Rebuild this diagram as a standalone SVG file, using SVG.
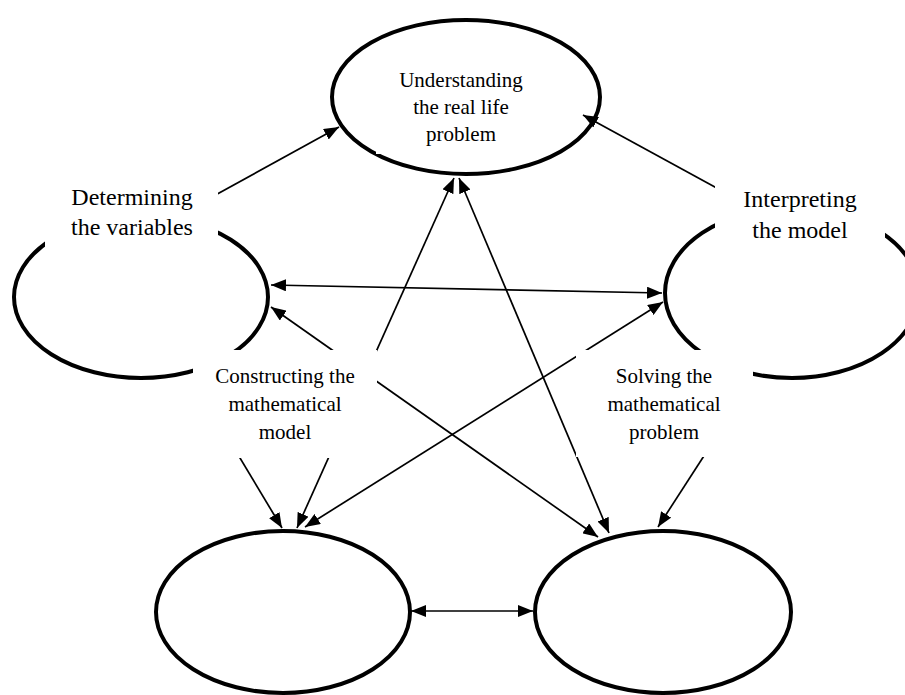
<svg xmlns="http://www.w3.org/2000/svg" width="905" height="695" viewBox="0 0 905 695">
<style>
.node{fill:#fff;stroke:#000;stroke-width:4}
.conn{fill:none;stroke:#000;stroke-width:1.7}
.dbl{marker-start:url(#arr);marker-end:url(#arr)}
.one{marker-end:url(#arr)}
.box{fill:#fff;stroke:none}
.t{font-family:"Liberation Serif","Times New Roman",serif;fill:#000;text-anchor:middle}
.s21{font-size:21px}
.s23{font-size:24px}
</style>
<defs>
<marker id="arr" markerUnits="userSpaceOnUse" markerWidth="15" markerHeight="12" refX="15" refY="6" orient="auto-start-reverse">
<path d="M0,0 L15,6 L0,12 z" fill="#000"/>
</marker>
</defs>
<rect width="905" height="695" fill="#fff"/>
<g id="node-understanding">
<ellipse class="node" cx="466" cy="97" rx="134" ry="77"/>
<text class="t s21" x="461" y="87">Understanding</text>
<text class="t s21" x="461" y="114">the real life</text>
<text class="t s21" x="461" y="141">problem</text>
</g>
<g id="node-variables">
<ellipse class="node" cx="141" cy="297" rx="127" ry="81"/>
</g>
<g id="node-interpreting">
<ellipse class="node" cx="792" cy="293" rx="127" ry="85"/>
</g>
<g id="node-model">
<ellipse class="node" cx="283" cy="612" rx="127" ry="81"/>
</g>
<g id="node-solving">
<ellipse class="node" cx="663" cy="612" rx="128" ry="81"/>
</g>
<g id="connectors">
<line class="conn one" x1="200" y1="203.5" x2="339" y2="127"/>
<line class="conn one" x1="735" y1="198" x2="583" y2="115"/>
<line class="conn dbl" x1="271" y1="285" x2="662" y2="293"/>
<line class="conn dbl" x1="271" y1="307" x2="598" y2="537"/>
<line class="conn dbl" x1="454" y1="178" x2="297" y2="528"/>
<line class="conn dbl" x1="459" y1="178" x2="609" y2="533"/>
<line class="conn dbl" x1="663" y1="302" x2="305" y2="527"/>
<line class="conn one" x1="222" y1="428" x2="282" y2="528"/>
<line class="conn one" x1="722" y1="428" x2="658" y2="527"/>
<line class="conn dbl" x1="411" y1="611" x2="533" y2="611"/>
</g>
<g id="label-determining">
<rect class="box" x="45" y="163" width="173" height="87"/>
<text class="t s23" x="132" y="205">Determining</text>
<text class="t s23" x="132" y="235">the variables</text>
</g>
<g id="label-interpreting">
<rect class="box" x="715" y="163" width="170" height="77"/>
<text class="t s23" x="800" y="207">Interpreting</text>
<text class="t s23" x="800" y="238">the model</text>
</g>
<g id="label-constructing">
<rect class="box" x="193" y="350" width="184" height="108"/>
<text class="t s21" x="285" y="383">Constructing the</text>
<text class="t s21" x="285" y="411">mathematical</text>
<text class="t s21" x="285" y="439">model</text>
</g>
<g id="label-solving">
<rect class="box" x="576" y="350" width="177" height="107"/>
<text class="t s21" x="664" y="383">Solving the</text>
<text class="t s21" x="664" y="411">mathematical</text>
<text class="t s21" x="664" y="439">problem</text>
</g>
<rect class="box" x="376" y="151" width="6" height="3"/>
</svg>
